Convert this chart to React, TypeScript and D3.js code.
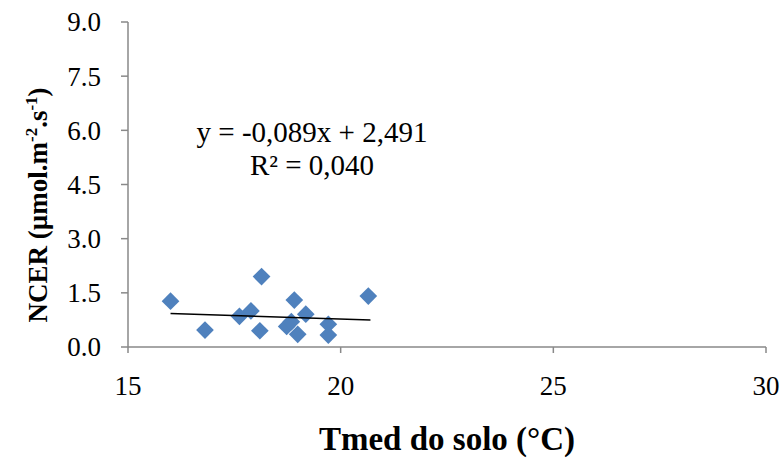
import React from "react";
import * as d3 from "d3";

const tempX = [16.0, 16.81, 18.14, 17.62, 17.89, 18.1, 18.91, 18.73, 18.84, 18.99, 19.18, 19.71, 19.71, 20.65];
const ncerY = [1.27, 0.47, 1.95, 0.85, 1.0, 0.45, 1.30, 0.57, 0.70, 0.35, 0.91, 0.63, 0.33, 1.41];
const trendX = [16.0, 20.7];
const trendY = [0.93, 0.75];
const xTicks = [15, 20, 25, 30];
const yTicks = [0, 1.5, 3.0, 4.5, 6.0, 7.5, 9.0];
const equationText = "y = -0,089x + 2,491";
const r2Text = "R² = 0,040";

export default function App() {
  const W = 784, H = 459;
  const x = d3.scaleLinear().domain([15, 30]).range([128, 766]);
  const y = d3.scaleLinear().domain([0, 9]).range([347, 22]);
  const font = "'Liberation Serif', 'Times New Roman', serif";
  const axisColor = "#898989";
  const diamond = d3.symbol().type(d3.symbolDiamond2).size(200)();
  const line = d3.line<number>().x((d) => x(trendX[d])).y((d) => y(trendY[d]));
  return (
    <svg width={W} height={H} style={{ position: "absolute", left: 0, top: 0, background: "#fff" }}>
      <rect width={W} height={H} fill="#fff" />
      {/* y axis */}
      <line x1={x(15)} x2={x(15)} y1={y(9)} y2={y(0)} stroke={axisColor} strokeWidth={1.5} />
      {yTicks.map((t) => (
        <g key={t}>
          <line x1={x(15) - 7} x2={x(15)} y1={y(t)} y2={y(t)} stroke={axisColor} strokeWidth={1.5} />
          <text x={101} y={y(t)} dy="0.35em" textAnchor="end" fontFamily={font} fontSize={27} fill="#000">
            {t.toFixed(1)}
          </text>
        </g>
      ))}
      {/* x axis */}
      <line x1={x(15)} x2={x(30)} y1={y(0)} y2={y(0)} stroke={axisColor} strokeWidth={1.5} />
      {xTicks.map((t) => (
        <g key={t}>
          <line x1={x(t)} x2={x(t)} y1={y(0)} y2={y(0) + 6} stroke={axisColor} strokeWidth={1.5} />
          <text x={x(t)} y={395} textAnchor="middle" fontFamily={font} fontSize={27} fill="#000">
            {t}
          </text>
        </g>
      ))}
      {/* points */}
      {tempX.map((v, i) => (
        <path key={i} d={diamond} transform={`translate(${x(v)},${y(ncerY[i])})`} fill="#4F81BD" />
      ))}
      {/* trend */}
      <path d={line([0, 1]) || ""} stroke="#000" strokeWidth={1.5} fill="none" />
      <text x={312} y={142} textAnchor="middle" fontFamily={font} fontSize={29} fill="#000">{equationText}</text>
      <text x={312} y={175} textAnchor="middle" fontFamily={font} fontSize={29} fill="#000">{r2Text}</text>
      {/* titles */}
      <text x={447} y={450} textAnchor="middle" fontFamily={font} fontSize={33} fontWeight="bold" fill="#000">
        Tmed do solo (°C)
      </text>
      <text transform="translate(47,205) rotate(-90)" textAnchor="middle" fontFamily={font} fontSize={27} fontWeight="bold" fill="#000">
        NCER (µmol.m<tspan dy="-10" fontSize={17}>-2</tspan><tspan dy="10">.s</tspan><tspan dy="-10" fontSize={17}>-1</tspan><tspan dy="10">)</tspan>
      </text>
    </svg>
  );
}
